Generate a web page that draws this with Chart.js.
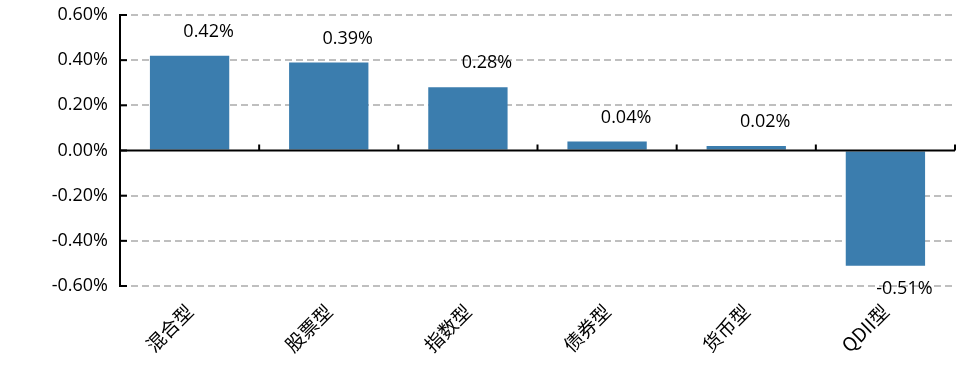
<!DOCTYPE html>
<html><head><meta charset="utf-8">
<script src="https://cdn.jsdelivr.net/npm/chart.js@4/dist/chart.umd.min.js"></script>
<style>html,body{margin:0;padding:0;background:#fff}#wrap{width:976px;height:370px}</style>
</head><body><div id="wrap"><canvas id="c" width="976" height="370"></canvas></div>
<script>
const categories = ['混合型','股票型','指数型','债券型','货币型','QDII型'];
const values = [0.42, 0.39, 0.28, 0.04, 0.02, -0.51];
const yTicks = [0.6, 0.4, 0.2, 0, -0.2, -0.4, -0.6];

const FONT = '"Open Sans", "Noto Sans CJK SC", sans-serif';
const fmt = v => v.toFixed(2) + '%';

const decor = {
  id: 'decor',
  afterDatasetsDraw(chart) {
    const ctx = chart.ctx, a = chart.chartArea;
    const x = chart.scales.x, y = chart.scales.y;
    const y0 = y.getPixelForValue(0);
    ctx.save();
    ctx.strokeStyle = '#000';
    ctx.lineWidth = 2;
    ctx.beginPath(); ctx.moveTo(a.left, y0); ctx.lineTo(a.right, y0); ctx.stroke();
    ctx.beginPath(); ctx.moveTo(a.left, a.top - 1); ctx.lineTo(a.left, a.bottom + 1); ctx.stroke();
    yTicks.forEach(v => {
      const py = y.getPixelForValue(v);
      ctx.beginPath(); ctx.moveTo(a.left, py); ctx.lineTo(a.left + 7, py); ctx.stroke();
    });
    for (let i = 1; i <= categories.length; i++) {
      const px = (x.getPixelForValue(i - 1) + x.getPixelForValue(i)) / 2;
      const bx = i === categories.length ? a.right : px;
      ctx.beginPath(); ctx.moveTo(bx, y0); ctx.lineTo(bx, y0 - 6); ctx.stroke();
    }
    ctx.fillStyle = '#000';
    ctx.font = '18px ' + FONT;
    ctx.textAlign = 'center';
    ctx.textBaseline = 'middle';
    const meta = chart.getDatasetMeta(0);
    meta.data.forEach((bar, i) => {
      const v = values[i];
      const ty = v >= 0 ? bar.y - 24 : bar.y + 23;
      ctx.fillText(fmt(v), bar.x + 19, ty);
    });
    ctx.restore();
  }
};

new Chart(document.getElementById('c'), {
  type: 'bar',
  data: {
    labels: categories,
    datasets: [{
      data: values,
      backgroundColor: '#3B7DAE',
      categoryPercentage: 1,
      barPercentage: 0.57
    }]
  },
  options: {
    responsive: false,
    animation: false,
    devicePixelRatio: 1,
    layout: { padding: { left: 0, right: 21, top: 15, bottom: 0 } },
    plugins: { legend: { display: false }, tooltip: { enabled: false } },
    scales: {
      x: {
        grid: { display: false },
        border: { display: false },
        ticks: {
          color: '#000',
          font: { size: 19, family: '"Noto Sans CJK SC", sans-serif' },
          minRotation: 45, maxRotation: 45,
          padding: 6
        },
        afterFit(s) { s.height = 84; s.paddingLeft = 0; s.paddingRight = 0; }
      },
      y: {
        min: -0.6, max: 0.6,
        grid: {
          drawTicks: false,
          color: ctx => (ctx.tick && Math.abs(ctx.tick.value) < 1e-9) ? 'rgba(0,0,0,0)' : '#BFBFBF',
          lineWidth: 2
        },
        border: { display: false, dash: [7, 4] },
        ticks: {
          stepSize: 0.2,
          color: '#000',
          padding: 12,
          font: { size: 18, family: FONT },
          callback: v => fmt(v)
        },
        afterFit(s) { s.width = 120; s.paddingTop = 0; s.paddingBottom = 0; }
      }
    }
  },
  plugins: [decor]
});
</script>
</body></html>
